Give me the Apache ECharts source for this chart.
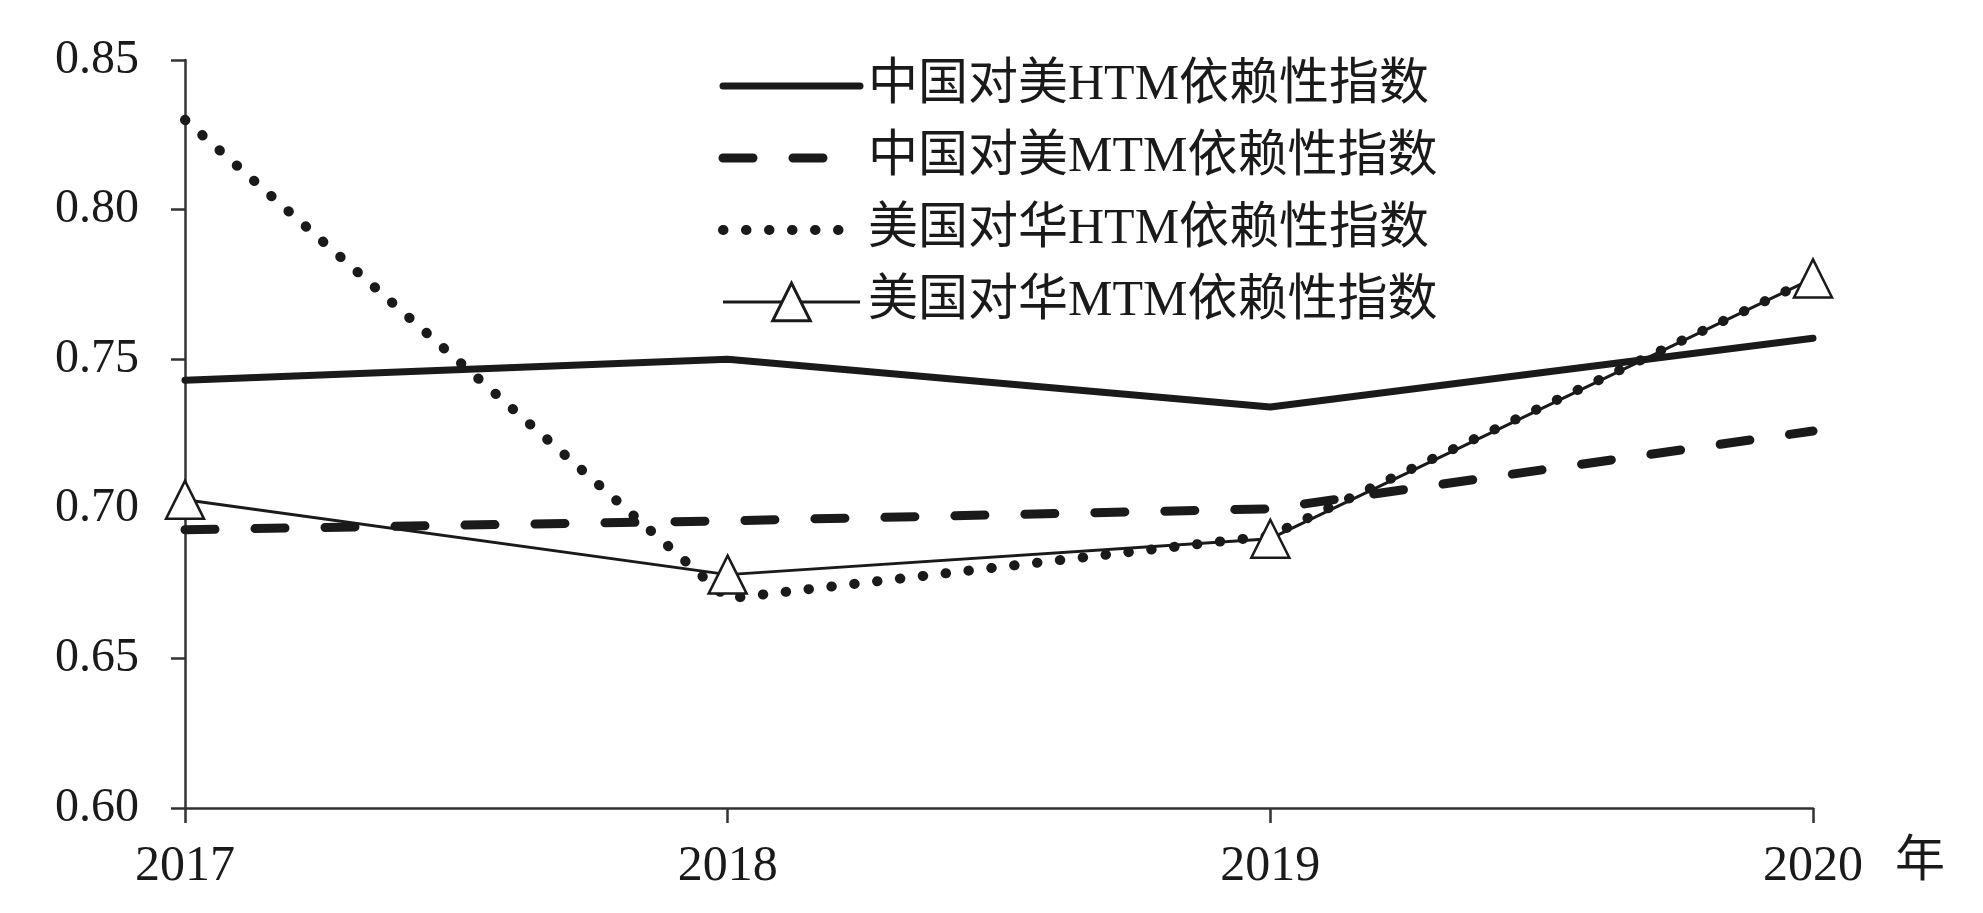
<!DOCTYPE html>
<html>
<head>
<meta charset="utf-8">
<title>依赖性指数</title>
<script src="https://cdn.jsdelivr.net/npm/echarts@6/dist/echarts.min.js"></script>
<style>
  html, body { margin: 0; padding: 0; background: #fff; }
  #dependency_chart { width: 1983px; height: 913px; }
</style>
</head>
<body>
<div id="dependency_chart"></div>
<script>
const years = ['2017', '2018', '2019', '2020'];
const yTicks = { min: 0.6, max: 0.85, step: 0.05 };

const seriesNames = [
  '中国对美HTM依赖性指数',
  '中国对美MTM依赖性指数',
  '美国对华HTM依赖性指数',
  '美国对华MTM依赖性指数',
];

const cnHTM = [0.743, 0.750, 0.734, 0.757];
const cnMTM = [0.693, 0.696, 0.700, 0.726];
const usHTM = [0.830, 0.670, 0.691, 0.777];
const usMTM = [0.703, 0.678, 0.690, 0.777];

const ink = '#1a1a1a';
const serif = "'Liberation Serif', 'Noto Sans CJK SC', serif";

const solidLine = { color: ink, width: 7, cap: 'round' };
const dashLine = { color: ink, width: 9, type: [30, 40], cap: 'round' };
const dotLine = { color: ink, width: 10, type: [0.5, 22.5], cap: 'round' };
const thinLine = { color: ink, width: 3 };

// legend rows without a marker: hide the default circle icon
const noMarker = { opacity: 0 };

const option = {
  backgroundColor: '#fff',
  animation: false,
  grid: {
    left: 185,
    right: 170,
    top: 60,
    bottom: 105,
  },
  legend: {
    orient: 'vertical',
    left: 713,
    top: 56,
    itemWidth: 137,
    itemHeight: 47,
    itemGap: 22,
    textStyle: {
      color: ink,
      fontSize: 50,
      fontFamily: serif,
      padding: [0, 0, 0, 3],
    },
    data: [
      { name: seriesNames[0], itemStyle: noMarker, lineStyle: solidLine },
      { name: seriesNames[1], itemStyle: noMarker, lineStyle: dashLine },
      { name: seriesNames[2], itemStyle: noMarker, lineStyle: dotLine },
      {
        name: seriesNames[3],
        lineStyle: thinLine,
        itemStyle: { color: '#fff', borderColor: ink, borderWidth: 3 },
      },
    ],
  },
  tooltip: { show: false },
  xAxis: {
    type: 'category',
    data: years,
    boundaryGap: false,
    name: '年',
    nameLocation: 'end',
    nameGap: 82,
    nameTextStyle: {
      color: ink,
      fontSize: 50,
      fontFamily: serif,
      align: 'left',
      verticalAlign: 'top',
      padding: [30, 0, 0, 0],
    },
    axisLine: { lineStyle: { color: '#333', width: 2.5 } },
    axisTick: { length: 15, lineStyle: { color: '#333', width: 2.5 } },
    axisLabel: {
      color: ink,
      fontSize: 50,
      fontFamily: serif,
      margin: 34,
    },
    splitLine: { show: false },
  },
  yAxis: {
    type: 'value',
    min: yTicks.min,
    max: yTicks.max,
    interval: yTicks.step,
    axisLine: { show: true, lineStyle: { color: '#333', width: 2.5 } },
    axisTick: { show: true, length: 14, lineStyle: { color: '#333', width: 2.5 } },
    axisLabel: {
      color: ink,
      fontSize: 48,
      fontFamily: serif,
      margin: 46,
      formatter: v => v.toFixed(2),
    },
    splitLine: { show: false },
  },
  series: [
    {
      name: seriesNames[0],
      type: 'line',
      data: cnHTM,
      symbol: 'none',
      itemStyle: { color: ink },
      lineStyle: solidLine,
      z: 3,
    },
    {
      name: seriesNames[1],
      type: 'line',
      data: cnMTM,
      symbol: 'none',
      itemStyle: { color: ink },
      lineStyle: dashLine,
      z: 3,
    },
    {
      name: seriesNames[2],
      type: 'line',
      data: usHTM,
      symbol: 'none',
      itemStyle: { color: ink },
      lineStyle: dotLine,
      z: 2,
    },
    {
      name: seriesNames[3],
      type: 'line',
      data: usMTM,
      symbol: 'triangle',
      symbolSize: 38,
      showSymbol: true,
      itemStyle: { color: '#fff', borderColor: ink, borderWidth: 2.5 },
      lineStyle: thinLine,
      z: 4,
    },
  ],
};

const dependencyChart = echarts.init(document.getElementById('dependency_chart'));
dependencyChart.setOption(option);
</script>
</body>
</html>
